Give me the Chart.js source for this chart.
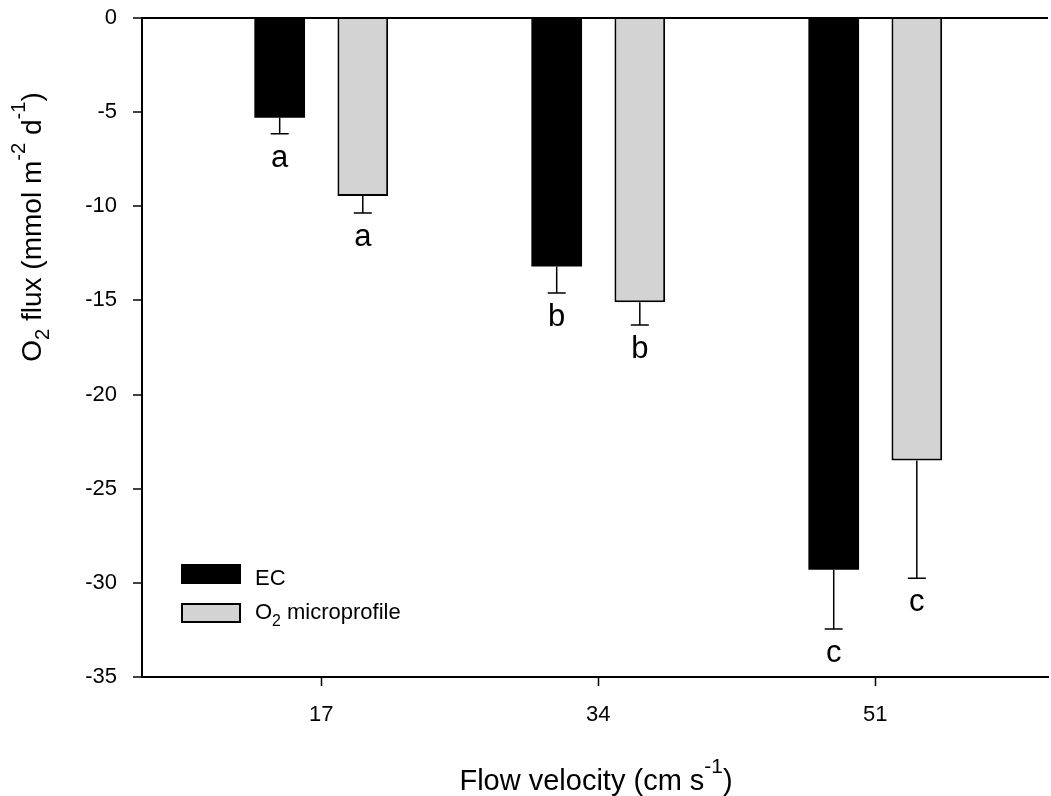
<!DOCTYPE html>
<html>
<head>
<meta charset="utf-8">
<script src="https://cdn.jsdelivr.net/npm/chart.js@4/dist/chart.umd.min.js"></script>
<style>
  html, body { margin: 0; padding: 0; background: #fff; }
  canvas { display: block; }
</style>
</head>
<body>
<canvas id="chart" width="1051" height="796"></canvas>
<script>
// Sediment O2 uptake at three flow velocities: eddy correlation vs. microprofiles
const velocities = [17, 34, 51];
const ecFlux = [-5.3, -13.2, -29.3];
const ecError = [0.85, 1.4, 3.15];
const profileFlux = [-9.45, -15.1, -23.5];
const profileError = [0.9, 1.2, 6.25];
const ecGroups = ['a', 'b', 'c'];
const profileGroups = ['a', 'b', 'c'];
const yTicks = [0, -5, -10, -15, -20, -25, -30, -35];
const xTicks = velocities;

const FONT = "'Liberation Sans', Arial, Helvetica, sans-serif";

// Text with sub/superscript runs: [{t, s: 'sub' | 'sup'}]
function runSize(seg, size) { return seg.s ? size * 0.72 : size; }
function richWidth(ctx, segs, size) {
  let w = 0;
  for (const seg of segs) {
    ctx.font = `${runSize(seg, size)}px ${FONT}`;
    w += ctx.measureText(seg.t).width;
  }
  return w;
}
function drawRich(ctx, segs, x, y, size, align) {
  let cx = align === 'center' ? x - richWidth(ctx, segs, size) / 2 : x;
  ctx.textAlign = 'left';
  ctx.textBaseline = 'alphabetic';
  for (const seg of segs) {
    const fs = runSize(seg, size);
    ctx.font = `${fs}px ${FONT}`;
    let dy = 0;
    if (seg.s === 'sub') dy = size * 0.3;
    if (seg.s === 'sup') dy = -size * 0.58;
    ctx.fillText(seg.t, cx, y + dy);
    cx += ctx.measureText(seg.t).width;
  }
}

const yTitle = [
  { t: 'O' }, { t: '2', s: 'sub' }, { t: ' flux (mmol m' }, { t: '-2', s: 'sup' },
  { t: ' d' }, { t: '-1', s: 'sup' }, { t: ')' }
];
const xTitle = [{ t: 'Flow velocity (cm s' }, { t: '-1', s: 'sup' }, { t: ')' }];

const ecLegend = [{ t: 'EC' }];
const profileLegend = [{ t: 'O' }, { t: '2', s: 'sub' }, { t: ' microprofile' }];

// Downward error bars with significance letters beneath
const errorBars = {
  id: 'errorBars',
  afterDatasetsDraw(chart) {
    const ctx = chart.ctx;
    const yScale = chart.scales.y;
    chart.data.datasets.forEach((ds, i) => {
      const meta = chart.getDatasetMeta(i);
      meta.data.forEach((bar, j) => {
        const v = ds.data[j].y;
        const yEnd = yScale.getPixelForValue(v - ds.errors[j]);
        ctx.save();
        ctx.strokeStyle = '#000';
        ctx.lineWidth = 1.5;
        ctx.beginPath();
        ctx.moveTo(bar.x, bar.y);
        ctx.lineTo(bar.x, yEnd);
        ctx.moveTo(bar.x - 9, yEnd);
        ctx.lineTo(bar.x + 9, yEnd);
        ctx.stroke();
        ctx.fillStyle = '#000';
        ctx.font = `31px ${FONT}`;
        ctx.textAlign = 'center';
        ctx.textBaseline = 'alphabetic';
        ctx.fillText(ds.groups[j], bar.x, yEnd + 33);
        ctx.restore();
      });
    });
  }
};

// Axis titles and the boxed legend
const annotations = {
  id: 'annotations',
  afterDraw(chart) {
    const ctx = chart.ctx;
    ctx.save();
    ctx.fillStyle = '#000';

    ctx.save();
    ctx.translate(41, 227);
    ctx.rotate(-Math.PI / 2);
    drawRich(ctx, yTitle, 0, 0, 28, 'center');
    ctx.restore();

    drawRich(ctx, xTitle, 596, 790, 29, 'center');

    const items = [
      { ds: chart.data.datasets[0], segs: ecLegend, top: 564, base: 585 },
      { ds: chart.data.datasets[1], segs: profileLegend, top: 603, base: 619 }
    ];
    for (const it of items) {
      ctx.fillStyle = it.ds.backgroundColor;
      ctx.fillRect(181, it.top, 60, 20);
      if (it.ds.borderWidth) {
        ctx.strokeStyle = it.ds.borderColor;
        ctx.lineWidth = 2;
        ctx.strokeRect(182, it.top + 1, 58, 18);
      }
      ctx.fillStyle = '#000';
      drawRich(ctx, it.segs, 255, it.base, 22, 'left');
    }
    ctx.restore();
  }
};

new Chart(document.getElementById('chart'), {
  type: 'bar',
  data: {
    datasets: [
      {
        label: 'EC',
        data: velocities.map((v, i) => ({ x: v, y: ecFlux[i] })),
        errors: ecError,
        groups: ecGroups,
        backgroundColor: '#000000',
        borderWidth: 0
      },
      {
        label: 'O2 microprofile',
        data: velocities.map((v, i) => ({ x: v, y: profileFlux[i] })),
        errors: profileError,
        groups: profileGroups,
        backgroundColor: '#d3d3d3',
        borderColor: '#000000',
        borderWidth: 2,
        borderSkipped: 'start'
      }
    ]
  },
  options: {
    responsive: false,
    devicePixelRatio: 1,
    animation: false,
    layout: { padding: { left: 0, right: 3, top: 18, bottom: 0 } },
    datasets: { bar: { categoryPercentage: 0.6, barPercentage: 0.61 } },
    plugins: { legend: { display: false }, tooltip: { enabled: false } },
    scales: {
      x: {
        type: 'linear',
        min: 6,
        max: 61.6,
        offset: false,
        afterBuildTicks: s => { s.ticks = xTicks.map(v => ({ value: v })); },
        afterFit: s => { s.height = 119; s.paddingLeft = 0; s.paddingRight = 0; },
        ticks: { color: '#000', font: { family: FONT, size: 22 }, padding: 16, callback: v => String(v) },
        grid: { offset: false, color: 'transparent', tickColor: '#000', tickLength: 9, tickWidth: 1.5 },
        border: { display: true, color: '#000', width: 2 }
      },
      y: {
        min: -35,
        max: 0,
        afterBuildTicks: s => { s.ticks = [...yTicks].sort((a, b) => a - b).map(v => ({ value: v })); },
        afterFit: s => { s.width = 142; s.paddingTop = 0; s.paddingBottom = 0; },
        ticks: { color: '#000', font: { family: FONT, size: 22 }, padding: 16, callback: v => String(v) },
        grid: {
          color: c => (c.tick && c.tick.value === 0 ? '#000' : 'transparent'),
          lineWidth: 2,
          tickColor: '#000',
          tickLength: 9,
          tickWidth: 1.5
        },
        border: { display: true, color: '#000', width: 2 }
      }
    }
  },
  plugins: [errorBars, annotations]
});
</script>
</body>
</html>
